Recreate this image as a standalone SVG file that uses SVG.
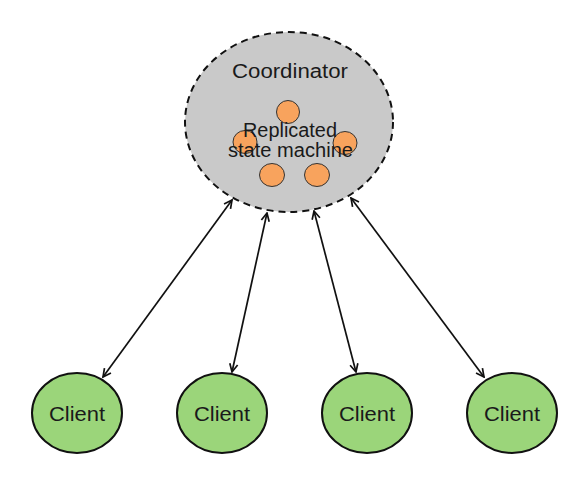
<svg xmlns="http://www.w3.org/2000/svg" width="585" height="479" viewBox="0 0 585 479">
<style>
.lbl{font-family:"Liberation Sans",Arial,sans-serif;fill:#1a1a1a;text-anchor:middle;font-size:20px}
.client ellipse{fill:#9bd57a;stroke:#111;stroke-width:2}
.rsm{fill:#f8a35d;stroke:#333;stroke-width:1}
.conn line{stroke:#111;stroke-width:1.7;marker-start:url(#ah);marker-end:url(#ah)}
</style>
<defs>
<marker id="ah" viewBox="0 0 10 10" refX="9" refY="5" markerWidth="10" markerHeight="10" markerUnits="userSpaceOnUse" orient="auto-start-reverse">
<path d="M1,1 L9,5 L1,9" fill="none" stroke="#111" stroke-width="1.7"/>
</marker>
</defs>
<rect width="585" height="479" fill="#fff"/>
<g id="coordinator">
<ellipse cx="289" cy="122" rx="104" ry="90" fill="#c9c9c9" stroke="#111" stroke-width="2" stroke-dasharray="7,5"/>
<text class="lbl" x="290" y="78" textLength="116" lengthAdjust="spacingAndGlyphs">Coordinator</text>
<ellipse class="rsm" cx="288" cy="112" rx="11.5" ry="11.5"/>
<ellipse class="rsm" cx="245" cy="142" rx="12" ry="11.5"/>
<ellipse class="rsm" cx="345" cy="143" rx="12" ry="11.5"/>
<ellipse class="rsm" cx="272" cy="175" rx="12.5" ry="11.5"/>
<ellipse class="rsm" cx="317" cy="175" rx="12.5" ry="11.5"/>
<text class="lbl" x="290" y="137" textLength="94" lengthAdjust="spacingAndGlyphs">Replicated</text>
<text class="lbl" x="290.5" y="157" textLength="125" lengthAdjust="spacingAndGlyphs">state machine</text>
</g>
<g id="client1" class="client"><ellipse cx="77" cy="413" rx="45" ry="40"/><text class="lbl" x="77" y="421" textLength="56" lengthAdjust="spacingAndGlyphs">Client</text></g>
<g id="client2" class="client"><ellipse cx="222" cy="413" rx="45" ry="40"/><text class="lbl" x="222" y="421" textLength="56" lengthAdjust="spacingAndGlyphs">Client</text></g>
<g id="client3" class="client"><ellipse cx="367" cy="413" rx="45" ry="40"/><text class="lbl" x="367" y="421" textLength="56" lengthAdjust="spacingAndGlyphs">Client</text></g>
<g id="client4" class="client"><ellipse cx="512" cy="413" rx="45" ry="40"/><text class="lbl" x="512" y="421" textLength="56" lengthAdjust="spacingAndGlyphs">Client</text></g>
<g id="connectors" class="conn">
<line x1="232" y1="200" x2="103" y2="377"/>
<line x1="267" y1="213" x2="232" y2="372"/>
<line x1="314" y1="211" x2="356" y2="372"/>
<line x1="351" y1="198" x2="484" y2="377"/>
</g>
</svg>
